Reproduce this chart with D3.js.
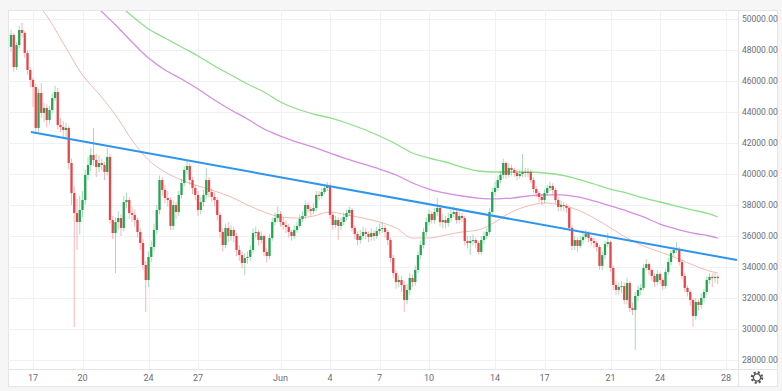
<!DOCTYPE html>
<html>
<head>
<meta charset="utf-8">
<script src="https://cdn.jsdelivr.net/npm/d3@7"></script>
<style>
  html, body { margin: 0; padding: 0; background: #f6f6f6; }
  svg { display: block; font-family: Roboto, "Noto Sans", sans-serif; }
</style>
</head>
<body>
<svg id="chart" width="782" height="391"></svg>
<script>
// 4h candles, first one opens 2021-05-15 16:00 UTC
const firstCandle = "2021-05-15T16:00:00Z";
const firstOpen = 48200;

const closes = [
  48970,46900,48320,49290,49100,47810,46710,46070,45610,42970,
  45230,43940,44260,43480,44130,44900,45290,43160,43030,42840,
  42970,40710,38770,37480,36900,37680,38320,39940,40580,41230,
  40900,40450,40710,40580,40130,41100,37030,36190,36900,37160,
  36520,38190,38320,37480,37360,37030,36260,35550,34130,33160,
  34650,35290,36390,37680,39610,38970,38450,38320,36650,38000,
  37550,38650,39420,40260,40520,39610,39100,38650,37680,38190,
  38650,39610,38840,38520,38320,37360,36260,35420,36520,36000,
  36390,36000,35100,34770,34260,34580,34650,35100,36190,36260,
  35740,36000,34970,34710,35870,36900,37160,37420,36900,36710,
  36580,36260,36000,36390,36650,37100,37290,38000,37740,37610,
  37810,38650,38580,38840,39100,39230,37360,36710,37030,36650,
  36900,37230,37480,37680,36520,36130,35740,36000,36260,36130,
  35940,36190,36000,36320,36450,36520,36260,35740,34580,33610,
  33030,33160,32840,31870,32520,33290,33030,33810,34770,35420,
  36260,36900,37420,37030,37550,37810,36900,37030,36840,37160,
  37420,37550,37030,37290,37160,35680,35550,35680,35740,35550,
  34970,35740,36000,36260,37550,38840,39100,39610,39940,40710,
  39940,40390,40260,40070,39870,40000,40130,40070,40130,39610,
  39030,38770,38520,38320,38770,39100,39230,38970,38320,37870,
  38000,37940,37810,36520,35360,35740,35360,35740,35940,36130,
  35870,35680,35550,35290,34070,34770,35480,35610,33940,32840,
  32520,32710,32770,31870,32970,31350,31230,32130,32520,32650,
  33940,34190,33810,33420,33030,33550,33160,32770,33680,34320,
  34900,35100,35160,34320,33420,32650,32390,31870,30840,31740,
  31550,32000,32390,33160,33360,33290,33360,33290
];

const highs = [
  49300,49100,48500,49550,49740,49200,48000,46900,46200,45800,
  45500,45870,44600,44500,44400,45200,45700,45550,43600,43400,
  43300,43100,41000,39200,38400,38600,38900,40300,41100,41700,
  42970,41300,41200,41000,40800,41680,41300,37300,37200,37600,
  37400,38600,38800,38500,37900,37700,37200,36500,35800,34400,
  35000,35700,36800,38000,39900,39800,39300,38900,38500,38300,
  38200,38900,39700,40500,40900,40700,39800,39300,38900,38500,
  39000,40390,39800,39100,38800,38500,37500,36500,36800,36900,
  36700,36600,36200,35400,35000,34900,35000,35400,36500,36600,
  36400,36300,36100,35200,36100,37200,37500,37900,37600,37200,
  37000,36800,36400,36700,36900,37400,37600,38300,38200,37900,
  38100,38900,38900,39100,39300,39480,39400,37500,37300,37200,
  37200,37500,37700,37900,37800,36700,36300,36400,36600,36500,
  36300,36500,36400,36600,36800,36900,36700,36400,35900,34800,
  33800,33500,33400,33100,32900,33600,33500,34100,35000,35700,
  36500,37200,37700,37600,37800,38450,38000,37400,37300,37500,
  37700,37900,37700,37600,37500,37300,36000,36000,36100,35900,
  35700,36000,36300,36500,37800,39100,39500,39900,40200,40980,
  40800,40700,40600,40400,40300,40300,41290,40400,40400,40300,
  39800,39200,38900,38700,39000,39300,39500,39400,39100,38500,
  38300,38200,38100,37900,36700,36000,35900,36000,36200,36400,
  36300,36000,35900,35700,35400,35000,35700,36190,35700,34100,
  33100,33000,33100,33000,33300,33100,31700,32400,32800,32900,
  34200,34500,34300,33900,33600,33800,33700,33300,33900,34600,
  35100,35300,35600,35300,34500,33600,32800,32500,32000,32000,
  31900,32300,32600,33400,33600,33600,33600,33500
];

const lows = [
  47900,46600,46700,48100,48800,47500,46400,45600,44320,42600,
  42700,43600,43360,43000,43200,43900,44700,42900,42700,42300,
  42200,40300,38000,30130,35100,36100,37200,38000,39600,40200,
  40500,39800,40100,40200,39600,39900,36800,35800,33610,36400,
  36000,36300,37800,37100,36900,36600,35900,35100,33800,31100,
  32700,34300,35000,36100,37400,38600,38100,37900,36400,36400,
  37100,37300,38400,39200,40000,39300,38700,38300,37300,37400,
  37900,38400,38500,38200,37900,37000,35900,35000,35200,35600,
  35700,35600,34700,34400,33900,33480,34200,34400,34900,35900,
  35400,35500,34700,34300,34500,35700,36700,36900,36600,36400,
  36200,35900,35700,35800,36200,36500,36900,37100,37500,37300,
  37400,37600,38300,38400,38700,38900,37100,36400,36500,35740,
  36400,36700,37000,37300,36300,35800,35400,35500,35800,35800,
  35600,35700,35700,35800,36100,36200,35900,35400,34300,33300,
  32600,32700,32400,31100,31600,32200,32700,32800,33600,34500,
  35200,36000,36700,36800,36800,37300,36600,36500,36500,36600,
  36900,37200,36800,36800,36900,35400,35200,34770,35400,35200,
  34800,34800,35500,35800,36100,37400,38600,38900,39400,39700,
  39700,39800,39900,39800,39600,39700,39800,39800,39800,39400,
  38800,38500,38200,38000,38100,38600,38900,38700,38100,37600,
  37600,37600,37500,36300,35100,35100,35000,35200,35500,35800,
  35600,35400,35200,35000,33800,33800,34500,35300,33700,32500,
  32200,32200,32300,31600,31600,31100,30900,28650,31800,32200,
  32500,33800,33500,33100,32700,32800,32900,32500,32600,33500,
  34100,34700,34900,34100,33200,32400,32100,31500,30130,30600,
  31200,31300,31700,32200,32900,32700,33000,32900
];

// moving averages, read once a day off the chart
const maDates = [
  "2021-05-17","2021-05-18","2021-05-19","2021-05-20","2021-05-21","2021-05-22","2021-05-23",
  "2021-05-24","2021-05-25","2021-05-26","2021-05-27","2021-05-28","2021-05-29","2021-05-30",
  "2021-05-31","2021-06-01","2021-06-02","2021-06-03","2021-06-04","2021-06-05","2021-06-06",
  "2021-06-07","2021-06-08","2021-06-09","2021-06-10","2021-06-11","2021-06-12","2021-06-13",
  "2021-06-14","2021-06-15","2021-06-16","2021-06-17","2021-06-18","2021-06-19","2021-06-20",
  "2021-06-21","2021-06-22","2021-06-23","2021-06-24","2021-06-25","2021-06-26","2021-06-27",
  "2021-06-27T12:00"
];
const maFast = [
  51355,49935,48130,46387,45160,43806,42190,40900,40130,39610,39230,38900,38520,38000,37550,
  37230,37160,37290,37550,37360,37160,36900,36520,35870,35870,36060,36260,36390,36900,37550,
  37940,38130,38000,37680,37160,36520,35870,35350,34970,34580,34130,33740,33610
];
const maMid = [
  null,null,null,51710,50645,49613,48516,47484,46710,46130,45484,44774,44130,43548,42900,
  42450,42060,41740,41350,40970,40650,40320,39935,39420,39030,38770,38580,38450,38390,38450,
  38580,38650,38650,38520,38260,37940,37610,37230,36770,36450,36190,36000,35870
];
const maSlow = [
  null,null,null,null,51935,51097,50190,49355,48774,48194,47613,46968,46387,45806,45290,
  44645,44194,43870,43613,43290,42903,42450,41935,41355,41030,40774,40450,40194,40130,40130,
  40130,40065,39935,39677,39355,39030,38774,38452,38194,37935,37677,37420,37226
];

// drawn trend line
const trendDates = ["2021-05-16T21:00:00Z", "2021-06-28T16:00:00Z"];
const trendValues = [42710, 34450];

const yTicks = [28000,30000,32000,34000,36000,38000,40000,42000,44000,46000,48000,50000];
const xTickDates = ["2021-05-17","2021-05-20","2021-05-24","2021-05-27","2021-06-01","2021-06-04",
  "2021-06-07","2021-06-10","2021-06-14","2021-06-17","2021-06-21","2021-06-24","2021-06-28"];
const xTickLabels = ["17","20","24","27","Jun","4","7","10","14","17","21","24","28"];

const upColor = "#22a652";
const downColor = "#e8454b";

const svg = d3.select("#chart");
const plot = { left: 8, right: 738, top: 10, bottom: 369 };
const frame = { right: 777, bottom: 386 };

const parse = s => new Date(s.length <= 10 ? s + "T00:00:00Z" : (s.endsWith("Z") ? s : s + "Z"));

const x = d3.scaleUtc()
  .domain([parse("2021-05-15T11:38:00Z"), parse("2021-06-28T17:27:00Z")])
  .range([plot.left, plot.right]);
const y = d3.scaleLinear().domain([27420, 50580]).range([plot.bottom, plot.top]);

// build candles
const start = parse(firstCandle);
const candles = closes.map((c, i) => ({
  t: d3.utcHour.offset(start, 4 * i),
  o: i === 0 ? firstOpen : closes[i - 1],
  h: highs[i], l: lows[i], c: c
}));

// frame
svg.append("rect")
  .attr("x", plot.left + 0.5).attr("y", plot.top + 0.5)
  .attr("width", frame.right - plot.left).attr("height", frame.bottom - plot.top)
  .attr("fill", "#fff").attr("stroke", "#e3e5ea");

svg.append("defs").append("clipPath").attr("id", "clip")
  .append("rect")
  .attr("x", plot.left + 1).attr("y", plot.top + 1)
  .attr("width", plot.right - plot.left - 1).attr("height", plot.bottom - plot.top - 1);

// grid
const grid = svg.append("g");
grid.selectAll(".hg").data(yTicks).enter().append("line")
  .attr("x1", plot.left).attr("x2", plot.right)
  .attr("y1", d => Math.round(y(d)) + 0.5).attr("y2", d => Math.round(y(d)) + 0.5)
  .attr("stroke", "#f0f1f4");
grid.selectAll(".vg").data(xTickDates).enter().append("line")
  .attr("y1", plot.top).attr("y2", plot.bottom)
  .attr("x1", d => Math.round(x(parse(d))) + 0.5).attr("x2", d => Math.round(x(parse(d))) + 0.5)
  .attr("stroke", "#f0f1f4");

const body = svg.append("g").attr("clip-path", "url(#clip)");

// moving averages
function maLine(values, color, width) {
  const pts = maDates.map((d, i) => [parse(d), values[i]]);
  body.append("path")
    .datum(pts)
    .attr("fill", "none")
    .attr("stroke", color)
    .attr("stroke-width", width)
    .attr("d", d3.line()
      .defined(d => d[1] != null)
      .curve(d3.curveMonotoneX)
      .x(d => x(d[0])).y(d => y(d[1])));
}
maLine(maSlow, "#8ee08a", 1.3);
maLine(maMid, "#d68de2", 1.3);
maLine(maFast, "#f5bab2", 1);

// candles
const cw = 2.3;
const cg = body.append("g");
cg.selectAll(".wick").data(candles).enter().append("line")
  .attr("x1", d => x(d.t)).attr("x2", d => x(d.t))
  .attr("y1", d => y(d.h)).attr("y2", d => y(d.l))
  .attr("stroke", d => d.c >= d.o ? upColor : downColor)
  .attr("stroke-opacity", 0.4)
  .attr("stroke-width", 1);
cg.selectAll(".body").data(candles).enter().append("rect")
  .attr("x", d => x(d.t) - cw / 2)
  .attr("y", d => y(Math.max(d.o, d.c)))
  .attr("width", cw)
  .attr("height", d => Math.max(1, Math.abs(y(d.o) - y(d.c))))
  .attr("fill", d => d.c >= d.o ? upColor : downColor);

// trend line
body.append("line")
  .attr("x1", x(parse(trendDates[0]))).attr("y1", y(trendValues[0]))
  .attr("x2", x(parse(trendDates[1]))).attr("y2", y(trendValues[1]))
  .attr("stroke", "#2e95ee").attr("stroke-width", 2);

// separators for axis areas
svg.append("line")
  .attr("x1", plot.right + 0.5).attr("x2", plot.right + 0.5)
  .attr("y1", plot.top).attr("y2", frame.bottom)
  .attr("stroke", "#e3e5ea");
svg.append("line")
  .attr("x1", plot.left).attr("x2", frame.right)
  .attr("y1", plot.bottom + 0.5).attr("y2", plot.bottom + 0.5)
  .attr("stroke", "#e3e5ea");

// y axis labels
svg.append("g").selectAll("text").data(yTicks).enter().append("text")
  .attr("x", plot.right + 4)
  .attr("y", d => y(d))
  .attr("dy", "0.35em")
  .attr("font-size", 8.5)
  .attr("fill", "#6a6d78")
  .text(d => d.toFixed(2));

// x axis labels
svg.append("g").selectAll("text").data(xTickDates).enter().append("text")
  .attr("x", d => x(parse(d)))
  .attr("y", 378)
  .attr("dy", "0.35em")
  .attr("text-anchor", "middle")
  .attr("font-size", 9)
  .attr("fill", "#6a6d78")
  .text((d, i) => xTickLabels[i]);

// settings gear
const gear = svg.append("g").attr("transform", "translate(757,377.5)");
gear.append("circle").attr("r", 5.2).attr("fill", "none")
  .attr("stroke", "#555").attr("stroke-width", 2.2)
  .attr("stroke-dasharray", "2.1 2");
gear.append("circle").attr("r", 3.6).attr("fill", "none")
  .attr("stroke", "#555").attr("stroke-width", 1.3);
gear.append("circle").attr("r", 1.4).attr("fill", "#fff");
</script>
</body>
</html>
